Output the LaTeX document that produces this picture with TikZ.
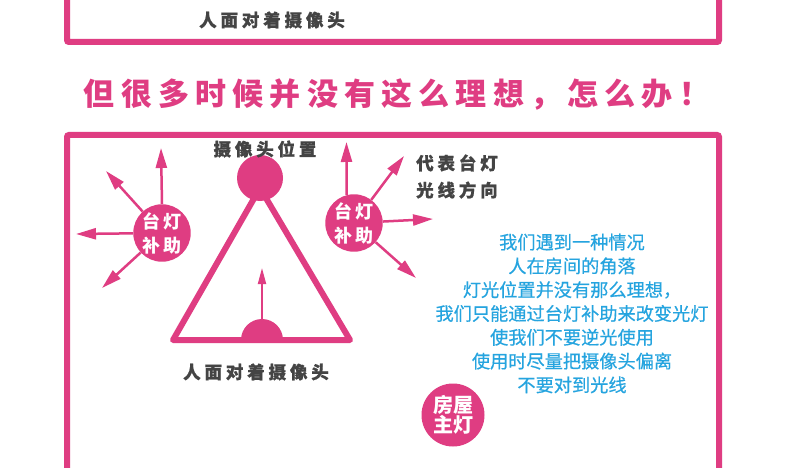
\documentclass[tikz,border=0pt]{standalone}
\usepackage{fontspec}
\setmainfont{Noto Sans CJK SC}
\newfontfamily\spacedf[LetterSpace=22,FakeBold=0.8]{Noto Sans CJK SC}
\newfontfamily\lampf[LetterSpace=22]{Noto Sans CJK SC}
\newfontfamily\headf[LetterSpace=20]{Noto Sans CJK SC}
\newfontfamily\bluef[FakeBold=0.5]{Noto Sans CJK SC}
\usetikzlibrary{arrows.meta}
\definecolor{pk}{HTML}{DF3D82}
\definecolor{gy}{HTML}{444444}
\definecolor{bl}{HTML}{25A4DF}
\tikzset{
  frame/.style={draw=pk,line width=6pt,rounded corners=2pt},
  greytext/.style={text=gy,font=\spacedf\bfseries\fontsize{17.5}{27}\selectfont,inner sep=0pt},
  lamp/.style={circle,fill=pk,minimum size=56pt,inner sep=0pt,text=white,align=center,font=\lampf\bfseries\fontsize{18}{24}\selectfont},
  ray/.style={draw=pk,line width=2.5pt,-{Triangle[length=20pt,width=11pt]}},
}
\begin{document}
\begin{tikzpicture}[x=1pt,y=-1pt]
\useasboundingbox (0,0) rectangle (790,468);
\fill[white] (0,0) rectangle (790,468);
\begin{scope}
\clip (0,0) rectangle (790,468);
\draw[frame] (67,-20) rectangle (719,42);
\draw[frame] (67,135) rectangle (719,520);
\end{scope}
\node[greytext] (top) at (272,20) {人面对着摄像头};
\node[text=pk,font=\headf\bfseries\fontsize{31}{36}\selectfont,inner sep=0pt] (head) at (397,95) {但很多时候并没有这么理想，怎么办！};

% triangle
\draw[pk,line width=6pt,line join=round,line cap=round] (173,340) -- (260,188) -- (350,340) -- cycle;
\node[circle,fill=pk,minimum size=46pt,inner sep=0pt] (cam) at (260,178) {};
\node[greytext] (camlbl) at (265,149) {摄像头位置};
\begin{scope}
\clip (200,290) rectangle (320,340);
\node[circle,fill=pk,minimum size=42pt,inner sep=0pt] (face) at (262,340) {};
\end{scope}
\coordinate (facetip) at (262,268);
\draw[ray,line width=1.8pt,-{Triangle[length=16pt,width=8pt]}] (face.north) -- (facetip);
\node[greytext] (facelbl) at (256,372) {人面对着摄像头};

% left lamp
\node[lamp] (ll) at (162,233) {台灯\\补助};
\coordinate (l1) at (161,148);
\coordinate (l2) at (106,171);
\coordinate (l3) at (76,234);
\coordinate (l4) at (102,288);
\draw[ray] (ll.north) -- (l1);
\draw[ray] (ll) -- (l2);
\draw[ray] (ll) -- (l3);
\draw[ray] (ll) -- (l4);

% right lamp
\node[lamp] (rl) at (354,223) {台灯\\补助};
\coordinate (r1) at (346.5,142);
\coordinate (r2) at (404,156);
\coordinate (r3) at (433,219);
\coordinate (r4) at (416,278);
\draw[ray] (rl.105) -- (r1);
\draw[ray] (rl) -- (r2);
\draw[ray] (rl) -- (r3);
\draw[ray] (rl) -- (r4);
\node[greytext,align=left,anchor=west] (raylbl) at (416,176.5) {代表台灯\\光线方向};

% blue text
\node[text=bl,align=center,font=\bluef\fontsize{18.2}{23.8}\selectfont,inner sep=0pt] (info) at (572,313.5)
 {我们遇到一种情况\\人在房间的角落\\灯光位置并没有那么理想，\\我们只能通过台灯补助来改变光灯\\使我们不要逆光使用\\使用时尽量把摄像头偏离\\不要对到光线};

% room lamp
\node[circle,fill=pk,minimum width=63pt,inner sep=0pt,text=white,align=center,font=\bfseries\fontsize{20}{19}\selectfont] (room) at (453,415) {房屋\\主灯};
\end{tikzpicture}
\end{document}
